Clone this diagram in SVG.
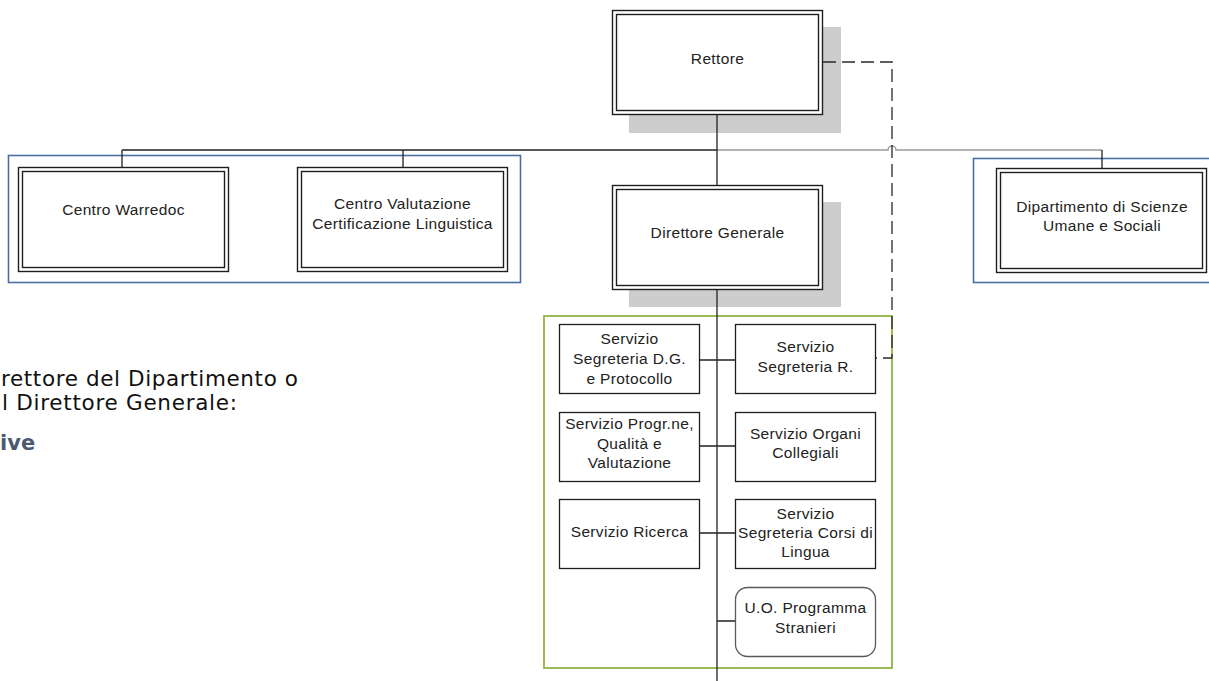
<svg xmlns="http://www.w3.org/2000/svg" width="1209" height="681" viewBox="0 0 1209 681">
  <style>
    .bg { fill: #ffffff; }
    .shadow { fill: #cdcdcd; }
    .dbl { fill: none; stroke: #1e1e1e; stroke-width: 1.4; }
    .fillw { fill: #ffffff; }
    .box { fill: #ffffff; stroke: #1e1e1e; stroke-width: 1.3; }
    .rbox { fill: #ffffff; stroke: #5a5a5a; stroke-width: 1.3; }
    .grp-blue { fill: none; stroke: #4a6fa5; stroke-width: 1.6; }
    .grp-green { fill: none; stroke: #9bbb59; stroke-width: 2; }
    .wire { fill: none; stroke: #222222; stroke-width: 1.3; }
    .wire-grey { fill: none; stroke: #9a9a9a; stroke-width: 1.5; }
    .dash { fill: none; stroke: #2a2a2a; stroke-width: 1.3; stroke-dasharray: 13 6; }
    .lbl { font-family: "Liberation Sans", Arial, sans-serif; font-size: 15.5px; letter-spacing: 0.35px; fill: #222222; text-anchor: middle; }
    .note { font-family: "DejaVu Sans", Verdana, sans-serif; font-size: 21.5px; fill: #111111; }
    .note-b { font-family: "DejaVu Sans", Verdana, sans-serif; font-size: 21px; font-weight: bold; fill: #4a5a73; }
  </style>

  <rect class="bg" x="0" y="0" width="1209" height="681"/>

  <!-- grouping frames -->
  <rect class="grp-blue" x="8.5" y="155.5" width="512" height="127"/>
  <rect class="grp-blue" x="973.5" y="158.5" width="260" height="124"/>
  <rect class="grp-green" x="544" y="316" width="348" height="352"/>

  <!-- top-level offices with drop shadow -->
  <g id="rettore">
    <rect class="shadow" x="629" y="27" width="212" height="106"/>
    <rect class="fillw" x="612.5" y="10.5" width="210" height="104"/>
    <rect class="dbl" x="612.5" y="10.5" width="210" height="104"/>
    <rect class="dbl" x="616.5" y="14.5" width="202" height="96"/>
    <text class="lbl" x="717.5" y="64">Rettore</text>
  </g>

  <g id="direttore-generale">
    <rect class="shadow" x="629" y="202" width="212" height="105"/>
    <rect class="fillw" x="612.5" y="185.5" width="210" height="104"/>
    <rect class="dbl" x="612.5" y="185.5" width="210" height="104"/>
    <rect class="dbl" x="616.5" y="189.5" width="202" height="96"/>
    <text class="lbl" x="717.5" y="238">Direttore Generale</text>
  </g>

  <g id="centro-warredoc">
    <rect class="fillw" x="18.5" y="167.5" width="210" height="104"/>
    <rect class="dbl" x="18.5" y="167.5" width="210" height="104"/>
    <rect class="dbl" x="22.5" y="171.5" width="202" height="96"/>
    <text class="lbl" x="123.5" y="215">Centro Warredoc</text>
  </g>

  <g id="centro-valutazione">
    <rect class="fillw" x="297.5" y="167.5" width="210" height="104"/>
    <rect class="dbl" x="297.5" y="167.5" width="210" height="104"/>
    <rect class="dbl" x="301.5" y="171.5" width="202" height="96"/>
    <text class="lbl" x="402.5" y="209">Centro Valutazione</text>
    <text class="lbl" x="402.5" y="229">Certificazione Linguistica</text>
  </g>

  <g id="dipartimento">
    <rect class="fillw" x="996.5" y="168.5" width="210" height="104"/>
    <rect class="dbl" x="996.5" y="168.5" width="210" height="104"/>
    <rect class="dbl" x="1000.5" y="172.5" width="202" height="96"/>
    <text class="lbl" x="1102" y="212">Dipartimento di Scienze</text>
    <text class="lbl" x="1102" y="231">Umane e Sociali</text>
  </g>

  <!-- services under the Direttore Generale -->
  <g id="segreteria-dg">
    <rect class="box" x="559.5" y="324.5" width="140" height="69"/>
    <text class="lbl" x="629.5" y="344">Servizio</text>
    <text class="lbl" x="629.5" y="364">Segreteria D.G.</text>
    <text class="lbl" x="629.5" y="384">e Protocollo</text>
  </g>

  <g id="segreteria-r">
    <rect class="box" x="735.5" y="324.5" width="140" height="69"/>
    <text class="lbl" x="805.5" y="352">Servizio</text>
    <text class="lbl" x="805.5" y="372">Segreteria R.</text>
  </g>

  <g id="programmazione">
    <rect class="box" x="559.5" y="412.5" width="140" height="69"/>
    <text class="lbl" x="629.5" y="429">Servizio Progr.ne,</text>
    <text class="lbl" x="629.5" y="449">Qualità e</text>
    <text class="lbl" x="629.5" y="468">Valutazione</text>
  </g>

  <g id="organi-collegiali">
    <rect class="box" x="735.5" y="412.5" width="140" height="69"/>
    <text class="lbl" x="805.5" y="439">Servizio Organi</text>
    <text class="lbl" x="805.5" y="458">Collegiali</text>
  </g>

  <g id="ricerca">
    <rect class="box" x="559.5" y="499.5" width="140" height="69"/>
    <text class="lbl" x="629.5" y="537">Servizio Ricerca</text>
  </g>

  <g id="corsi-lingua">
    <rect class="box" x="735.5" y="499.5" width="140" height="69"/>
    <text class="lbl" x="805.5" y="519">Servizio</text>
    <text class="lbl" x="805.5" y="538">Segreteria Corsi di</text>
    <text class="lbl" x="805.5" y="557">Lingua</text>
  </g>

  <g id="programma-stranieri">
    <rect class="rbox" x="735.5" y="587.5" width="140" height="69" rx="12" ry="12"/>
    <text class="lbl" x="805.5" y="613">U.O. Programma</text>
    <text class="lbl" x="805.5" y="633">Stranieri</text>
  </g>

  <!-- connectors, drawn over the shadows -->
  <g id="connectors">
    <path class="wire" d="M122,150 H717"/>
    <path class="wire-grey" d="M717,150 H888 A4,4 0 0 1 896,150 H1102"/>
    <path class="wire" d="M122,150 V167 M403,150 V167 M1102,150 V168"/>
    <path class="wire" d="M717,115 V185"/>
    <path class="wire" d="M717,289 V681"/>
    <path class="wire" d="M699,360 H735 M699,446 H735 M699,533 H735 M717,621 H735"/>
    <path class="dash" d="M823,62 H892 V358 H876"/>
  </g>

  <!-- side note, clipped at the left edge -->
  <text class="note" x="1" y="386" textLength="297" lengthAdjust="spacing">rettore del Dipartimento o</text>
  <text class="note" x="2" y="410" textLength="235" lengthAdjust="spacing">l Direttore Generale:</text>
  <text class="note-b" x="0" y="450">ive</text>
</svg>
